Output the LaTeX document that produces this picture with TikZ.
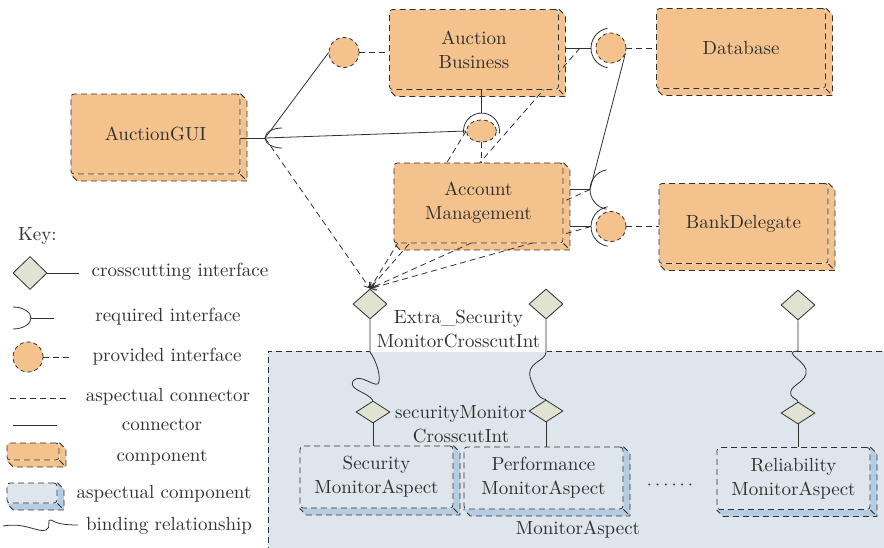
\documentclass[tikz,border=0pt]{standalone}
\usetikzlibrary{shapes.geometric, arrows.meta, calc}

\definecolor{compfill}{HTML}{F4C38D}
\definecolor{aspfill}{HTML}{DFE5EC}
\definecolor{aspdepth}{HTML}{B5CDE3}
\definecolor{areafill}{HTML}{DFE5EC}
\definecolor{xcutfill}{HTML}{E1E3D2}
\definecolor{linec}{HTML}{303030}

\pgfdeclarelayer{background}
\pgfsetlayers{background,main}

\begin{document}
\begin{tikzpicture}[
    x=0.5pt, y=-0.5pt, % one unit is one pixel of the sketch, y pointing down
    line width=0.55pt,
    >={Straight Barb[length=2.5pt, width=3.5pt]},
    every node/.style={font=\fontsize{9.5}{12}\selectfont, text=linec},
    % Styles
    comp/.style={ % Component, front face only
        rectangle,
        rounded corners=1.5pt,
        draw=linec,
        dash pattern=on 3pt off 2pt,
        fill=compfill,
        minimum width=84.5pt,
        minimum height=40pt,
        inner sep=0pt,
        align=center
    },
    acomp/.style={ % Aspectual component
        comp,
        fill=aspfill,
        minimum width=76.5pt,
        minimum height=31pt
    },
    depth/.style={ % Side faces of the boxes
        draw=linec,
        dash pattern=on 3pt off 2pt
    },
    area/.style={ % Aspect container
        rectangle,
        draw=linec,
        dash pattern=on 3pt off 2pt,
        fill=areafill,
        inner sep=0pt,
        minimum width=309pt,
        minimum height=99pt
    },
    prov/.style={ % Provided interface
        circle,
        minimum size=15pt,
        inner sep=0pt,
        draw=linec,
        dash pattern=on 2pt off 1.5pt,
        fill=compfill
    },
    xcut/.style={ % Crosscutting interface
        diamond,
        minimum width=17pt,
        minimum height=15pt,
        inner sep=0pt,
        draw=linec,
        fill=xcutfill
    },
    conn/.style={ % Connector
        draw=linec
    },
    aconn/.style={ % Aspectual connector
        conn,
        dash pattern=on 3pt off 2pt
    }
]
    \useasboundingbox (0,0) rectangle (884,547);

    % Aspect container, behind everything
    \begin{pgfonlayer}{background}
        \node[area] (monitor) at (577,450) {};
    \end{pgfonlayer}
    \node (monitorname) at (578,530) {MonitorAspect};

    % Components
    \node[comp] (gui) at (155.5,134) {AuctionGUI};
    \node[comp] (business) at (474,49.5) {Auction\\Business};
    \node[comp] (database) at (741,48.5) {Database};
    \node[comp] (account) at (478.5,203) {Account\\Management};
    \node[comp] (bank) at (743.5,223.5) {BankDelegate};

    % Aspectual components
    \node[acomp] (security) at (376.5,477) {Security\\MonitorAspect};
    \node[acomp, minimum width=79.5pt] (performance) at (543.5,478) {Performance\\MonitorAspect};
    \node[acomp] (reliability) at (793.5,478.5) {Reliability\\MonitorAspect};
    \node (dots) at (670,485) {$\cdots\cdots$};

    % Provided interfaces
    \node[prov] (pbusiness) at (344,52.5) {};
    \node[prov] (pdatabase) at (611,48) {};
    \node[prov] (pbank) at (611,226.5) {};
    \node[prov, ellipse, minimum width=15pt, minimum height=11pt] (paccount) at (481.5,131) {};

    % Crosscutting interfaces (label first, the diamonds sit on top of it)
    \node[fill=white, minimum width=88.5pt, minimum height=22.5pt, inner sep=0pt, align=center] (extralabel) at (458.5,329.5) {Extra\_Security\\MonitorCrosscutInt};
    \node[xcut] (xsecurity) at (370,304) {};
    \node[xcut] (xperformance) at (546,304) {};
    \node[xcut] (xreliability) at (798,305) {};
    \foreach \a/\x/\y in {security/373/412, performance/546/411, reliability/798/413}
        \node[xcut, minimum height=11pt] (i\a) at (\x,\y) {};
    \node[align=center] (seclabel) at (461,424) {securityMonitor\\CrosscutInt};

    % Socket points
    \coordinate (sgui) at (265,138);
    \coordinate (sdatabase) at (580,48);
    \coordinate (caccount) at (610,189.5);
    \coordinate (saccount) at (590,189.5);
    \coordinate (sbank) at (591,226.5);

    % Key
    \node[anchor=west] (key) at (11,236) {Key:};
    \node[xcut, minimum height=16.5pt] (kxcut) at (30,273) {};
    \coordinate (kxcutend) at (79,273);
    \draw[conn] (kxcut.east) -- (kxcutend);
    \node (kxcuttext) at (180,272) {crosscutting interface};

    \coordinate (kreq) at (31,318);
    \coordinate (kreqend) at (54,318);
    \draw[conn] (kreq) ++(-9pt,5.5pt) arc[start angle=90, end angle=-90, x radius=9pt, y radius=5.5pt];
    \draw[conn] (kreq) -- (kreqend);
    \node (kreqtext) at (168,317) {required interface};

    \node[prov] (kprov) at (28,357) {};
    \coordinate (kprovend) at (72,357);
    \draw[aconn] (kprov.east) -- (kprovend);
    \node (kprovtext) at (167,357) {provided interface};

    \coordinate (kaconna) at (10,398);
    \coordinate (kaconnb) at (68,398);
    \draw[aconn] (kaconna) -- (kaconnb);
    \node (kaconntext) at (168,397) {aspectual connector};

    \coordinate (kconna) at (13,425);
    \coordinate (kconnb) at (57,425);
    \draw[conn] (kconna) -- (kconnb);
    \node (kconntext) at (162,425) {connector};

    \node[comp, minimum width=26pt, minimum height=8.5pt] (kcomp) at (33,451.5) {};
    \node (kcomptext) at (162,457) {component};

    \node[acomp, minimum width=25pt, minimum height=10pt] (kasp) at (32,493) {};
    \node (kasptext) at (164,494) {aspectual component};

    \coordinate (kbinda) at (3,526);
    \coordinate (kbindb) at (78,525);
    \draw[conn] (kbinda) .. controls (25,522) and (38,533) .. (46,530) .. controls (52,528) and (46,518) .. (51,520) .. controls (56,523) and (62,525) .. (kbindb);
    \node (kbindtext) at (169,526) {binding relationship};

    \begin{pgfonlayer}{background}
        % Side faces of the boxes
        \foreach \comp/\col in {gui/compfill, business/compfill, database/compfill, account/compfill, bank/compfill, kcomp/compfill,
                                security/aspdepth, performance/aspdepth, reliability/aspdepth, kasp/aspdepth} {
            \fill[\col] (\comp.north east) -- ++(3.25pt,-3.25pt) |- ([shift={(3.25pt,-3.25pt)}]\comp.south west) -- (\comp.south west) -- (\comp.south east) -- cycle;
            \draw[depth] (\comp.north east) -- ++(3.25pt,-3.25pt) |- ([shift={(3.25pt,-3.25pt)}]\comp.south west) -- (\comp.south west)
                (\comp.south east) -- ++(3.25pt,-3.25pt);
        }

        % Aspectual connectors into Extra_Security
        \foreach \s in {sgui, paccount.west, sdatabase, saccount, sbank}
            \draw[aconn, ->] (\s) -- (xsecurity.north);

        % AuctionGUI requires
        \draw[conn] (gui.east |- sgui) -- (sgui);
        \draw[conn] (sgui) ++(8.5pt,5pt) arc[start angle=90, end angle=270, x radius=8.5pt, y radius=5pt];
        \draw[conn] (sgui) -- (pbusiness.west);
        \draw[conn] (sgui) -- (paccount.west);

        % Provided interfaces to their components
        \draw[aconn] (pbusiness.east) -- (pbusiness.east -| business.west);
        \draw[aconn] (pdatabase.east) -- (pdatabase.east -| database.west);
        \draw[aconn] (pbank.east) -- (pbank.east -| bank.west);
        \draw[aconn] (paccount.south) -- (paccount.south |- account.north);

        % Required sockets
        \draw[conn] (paccount.center |- business.south) -- ([yshift=9pt]paccount.center);
        \draw[conn] (paccount.center) ++(-8:9pt) arc[start angle=-8, end angle=188, radius=9pt];
        \draw[conn] ($(business.east |- pdatabase)+(3.25pt,0)$) -- ([xshift=-10pt]pdatabase.center);
        \draw[conn] (pdatabase.center) ++(100:10pt) arc[start angle=100, end angle=260, radius=10pt];
        \draw[conn] ($(account.east |- caccount)+(3.25pt,0)$) -- (saccount);
        \draw[conn] (caccount) ++(100:10pt) arc[start angle=100, end angle=260, radius=10pt];
        \draw[conn] (pdatabase.-20) -- (saccount);
        \draw[conn] ($(account.east |- pbank)+(3.25pt,0)$) -- ([xshift=-10pt]pbank.center);
        \draw[conn] (pbank.center) ++(100:10pt) arc[start angle=100, end angle=260, radius=10pt];
    \end{pgfonlayer}

    % Binding relationships
    \coordinate (bsecurity) at (370,352);
    \coordinate (bperformance) at (546,352);
    \coordinate (breliability) at (798,351);
    \draw[conn] (xsecurity.south) -- (bsecurity) .. controls (376,360) and (382,378) .. (378,384) .. controls (372,386) and (360,373) .. (353,381) .. controls (348,390) and (368,392) .. (isecurity.north);
    \draw[conn] (xperformance.south) -- (bperformance) .. controls (546,362) and (524,362) .. (531,380) .. controls (536,392) and (538,398) .. (iperformance.north);
    \draw[conn] (xreliability.south) -- (breliability) .. controls (780,352) and (810,362) .. (806,374) .. controls (803,384) and (788,386) .. (791,395) .. controls (792,398) and (797,399) .. (ireliability.north);
    \foreach \a in {security, performance, reliability}
        \draw[conn] (i\a.south) -- (i\a.south |- \a.north);
\end{tikzpicture}
\end{document}
